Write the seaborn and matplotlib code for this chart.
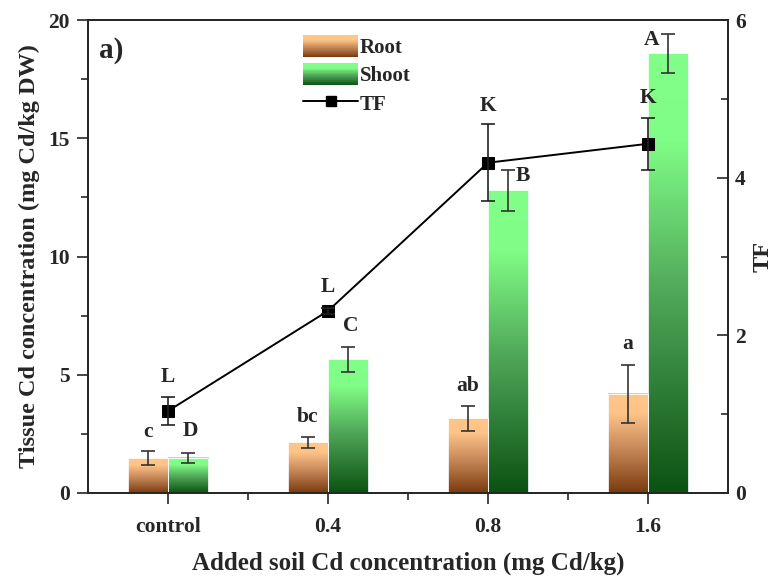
import numpy as np
import pandas as pd
import matplotlib
matplotlib.use("Agg")
import matplotlib.pyplot as plt
import seaborn as sns
from matplotlib.colors import LinearSegmentedColormap
from matplotlib.legend_handler import HandlerBase
from matplotlib.patches import Rectangle
from matplotlib.lines import Line2D
from matplotlib.ticker import MultipleLocator

# data
treatments = ["control", "0.4", "0.8", "1.6"]
root_mean = [1.47, 2.14, 3.16, 4.19]
root_err = [0.29, 0.22, 0.53, 1.23]
shoot_mean = [1.49, 5.65, 12.8, 18.6]
shoot_err = [0.22, 0.52, 0.87, 0.83]
tf_mean = [1.04, 2.31, 4.19, 4.43]
tf_err = [0.18, 0.04, 0.49, 0.33]
root_letters = ["c", "bc", "ab", "a"]
shoot_letters = ["D", "C", "B", "A"]
tf_letters = ["L", "L", "K", "K"]

# label offsets in points (layout only)
root_off = [(0, 7), (0, 7), (0, 7), (0, 8)]
shoot_off = [(2, 8), (2, 8), (11, -12), (-12, -12)]
tf_off = [(0, 7), (0, 8), (0, 6), (0, 7)]

sns.set_style("ticks")
plt.rcParams["font.family"] = ["Liberation Serif", "DejaVu Serif"]
plt.rcParams["font.weight"] = "bold"
plt.rcParams["axes.linewidth"] = 1.3

root_cmap = LinearSegmentedColormap.from_list(
    "root", [(0, "#7A3A0E"), (0.45, "#C8895A"), (0.8, "#FDC387"), (1, "#FFC68A")])
shoot_cmap = LinearSegmentedColormap.from_list(
    "shoot", [(0, "#0B5212"), (0.45, "#4FA658"), (0.8, "#80FD86"), (1, "#82FF88")])

df = pd.DataFrame({
    "treatment": treatments * 2,
    "tissue": ["Root"] * len(treatments) + ["Shoot"] * len(treatments),
    "conc": root_mean + shoot_mean,
})

fig, ax = plt.subplots(figsize=(7.82, 5.77), dpi=100)
fig.subplots_adjust(left=0.1125, right=0.931, bottom=0.1456, top=0.9653)

sns.barplot(data=df, x="treatment", y="conc", hue="tissue", width=0.5,
            palette=["#FFC68A", "#82FF88"], errorbar=None, legend=False, ax=ax)

grad = np.linspace(0, 1, 256).reshape(-1, 1)
for cont, cmap, means, errs, letters, offs in [
        (ax.containers[0], root_cmap, root_mean, root_err, root_letters, root_off),
        (ax.containers[1], shoot_cmap, shoot_mean, shoot_err, shoot_letters, shoot_off)]:
    xs = []
    for bar in cont:
        x0, w, h = bar.get_x(), bar.get_width(), bar.get_height()
        ax.imshow(grad, extent=[x0, x0 + w, 0, h], cmap=cmap, origin="lower",
                  aspect="auto", zorder=1.5)
        bar.set_facecolor("none")
        bar.set_edgecolor("white")
        bar.set_linewidth(0.6)
        bar.set_zorder(1.6)
        xs.append(x0 + w / 2)
    ax.errorbar(xs, means, yerr=errs, fmt="none", ecolor="#333333",
                elinewidth=1.2, capsize=5, capthick=1.2, zorder=3)
    for x, m, e, t, o in zip(xs, means, errs, letters, offs):
        ax.annotate(t, (x, m + e), xytext=o, textcoords="offset points",
                    ha="center", va="bottom", fontsize=15.5, fontweight="bold")

ax.set_xlim(-0.5, len(treatments) - 0.5)
ax.set_ylim(0, 20)
ax.yaxis.set_major_locator(MultipleLocator(5))
ax.yaxis.set_minor_locator(MultipleLocator(2.5))
ax.set_xticks(range(len(treatments)))
ax.set_xticks(np.arange(len(treatments) - 1) + 0.5, minor=True)
ax.set_xticklabels(treatments)
ax.tick_params(axis="both", which="major", direction="out", length=8, width=1.2,
               labelsize=15.5, pad=5)
ax.tick_params(axis="both", which="minor", direction="out", length=5, width=1.2)
ax.tick_params(axis="x", which="major", pad=9)
ax.set_xlabel("Added soil Cd concentration (mg Cd/kg)", fontsize=18,
              fontweight="bold", labelpad=11)
ax.set_ylabel("Tissue Cd concentration (mg Cd/kg DW)", fontsize=17.5,
              fontweight="bold", labelpad=6)
for s in ax.spines.values():
    s.set_visible(True)
    s.set_linewidth(1.3)

ax2 = ax.twinx()
x_tf = np.arange(len(treatments))
sns.lineplot(x=x_tf, y=tf_mean, color="black", marker="s", markersize=9,
             markeredgecolor="black", linewidth=1.4, ax=ax2, zorder=4)
ax2.errorbar(x_tf, tf_mean, yerr=tf_err, fmt="none", ecolor="#222222",
             elinewidth=1.2, capsize=5, capthick=1.2, zorder=4)
for x, m, e, t, o in zip(x_tf, tf_mean, tf_err, tf_letters, tf_off):
    ax2.annotate(t, (x, m + e), xytext=o, textcoords="offset points",
                 ha="center", va="bottom", fontsize=15.5, fontweight="bold")
ax2.set_ylim(0, 6)
ax2.yaxis.set_major_locator(MultipleLocator(2))
ax2.yaxis.set_minor_locator(MultipleLocator(1))
ax2.tick_params(axis="y", which="major", direction="in", length=8, width=1.2,
                labelsize=15.5, pad=5)
ax2.tick_params(axis="y", which="minor", direction="in", length=5, width=1.2)
ax2.set_ylabel("TF", fontsize=17.5, fontweight="bold", labelpad=5)
ax2.set_xlim(-0.5, len(treatments) - 0.5)
for s in ax2.spines.values():
    s.set_linewidth(1.3)

ax.text(0.018, 0.965, "a)", transform=ax.transAxes, fontsize=21,
        fontweight="bold", va="top")


# legend with gradient swatches
class GradientHandler(HandlerBase):
    def __init__(self, cmap):
        super().__init__()
        self.cmap = cmap

    def create_artists(self, legend, orig_handle, xdescent, ydescent, width,
                       height, fontsize, trans):
        n = 30
        arts = []
        for i in range(n):
            r = Rectangle((-xdescent, -ydescent + height * i / n), width,
                          height / n + 0.3, facecolor=self.cmap(i / (n - 1)),
                          edgecolor="none", transform=trans)
            arts.append(r)
        return arts


h_root = Rectangle((0, 0), 1, 1)
h_shoot = Rectangle((0, 0), 1, 1)
h_tf = Line2D([], [], color="black", marker="s", markersize=7, linewidth=1.4)
leg = ax2.legend([h_root, h_shoot, h_tf], ["Root", "Shoot", "TF"],
                 handler_map={h_root: GradientHandler(root_cmap),
                              h_shoot: GradientHandler(shoot_cmap)},
                 loc="upper left", bbox_to_anchor=(0.336, 0.968), frameon=False,
                 handlelength=2.64, handleheight=1.25,
                 labelspacing=0.25, handletextpad=0.1, borderaxespad=0,
                 borderpad=0, prop={"weight": "bold", "size": 15})

fig.savefig("out.png", dpi=100)
